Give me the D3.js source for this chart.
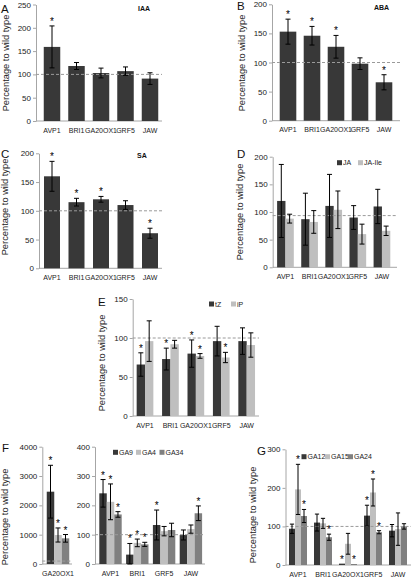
<!DOCTYPE html>
<html><head><meta charset="utf-8">
<script src="https://cdn.jsdelivr.net/npm/d3@7"></script>
<style>body{margin:0;background:#fff} svg{display:block} text{font-family:"Liberation Sans",Arial,sans-serif}</style>
</head><body><svg id="c" width="414" height="577"></svg>
<script>
// ---------- DATA ----------
const catsMain = ["AVP1", "BRI1", "GA20OX1", "GRF5", "JAW"];
// A: IAA
const iaaVal = [159, 118, 103, 107, 91];
const iaaErr = [45, 7.5, 10.5, 9, 12.5];
const iaaSig = [1, 0, 0, 0, 0];
// B: ABA
const abaVal = [153, 146, 127, 98, 66];
const abaErr = [21.5, 16, 19.5, 10, 13];
const abaSig = [1, 1, 1, 0, 1];
// C: SA
const saVal = [160, 115, 120, 110, 61];
const saErr = [26, 6.7, 5, 7.5, 8.7];
const saSig = [1, 1, 1, 0, 1];
// D: JA / JA-Ile
const jaVal = [120, 87, 111, 90, 110];
const jaErr = [66, 47, 57, 21.5, 31];
const jaIleVal = [88, 82, 104, 60, 66];
const jaIleErr = [8, 20.5, 34, 18, 8.5];
const noSig = [0, 0, 0, 0, 0];
// E: tZ / iP
const tzVal = [66, 73, 80, 96, 96];
const tzErr = [15, 14, 17.5, 19, 17];
const tzSig = [1, 1, 1, 0, 0];
const ipVal = [96, 92, 77, 75, 91];
const ipErr = [26, 5, 3, 6.6, 15.6];
const ipSig = [0, 0, 1, 1, 0];
// F left: GA20OX1
const catsFLeft = ["GA20OX1"];
const ga9Left = [2466], ga9LeftErr = [900], ga9LeftSig = [1];
const ga4Left = [989], ga4LeftErr = [240], ga4LeftSig = [1];
const ga34Left = [875], ga34LeftErr = [130], ga34LeftSig = [1];
// F right
const catsFRight = ["AVP1", "BRI1", "GRF5", "JAW"];
const ga9Val = [241, 32, 133, 99];
const ga9Err = [47, 38, 51, 17];
const ga9Sig = [1, 1, 1, 0];
const ga4Val = [212, 72, 112, 119];
const ga4Err = [61, 13, 16, 14];
const ga4Sig = [1, 1, 0, 0];
const ga34Val = [169, 67, 116, 173];
const ga34Err = [9.5, 7, 23, 25];
const ga34Sig = [1, 1, 0, 1];
// G: GA12 / GA15 / GA24
const ga12Val = [94, 110, 3.5, 128, 89];
const ga12Err = [12, 22, 0, 27, 16];
const ga12Sig = [0, 0, 1, 1, 0];
const ga15Val = [196, 108, 55, 188, 93];
const ga15Err = [65, 13, 27, 35, 42];
const ga15Sig = [1, 0, 0, 1, 0];
const ga24Val = [127, 72, 2.6, 85, 100];
const ga24Err = [17, 8, 0, 4, 7];
const ga24Sig = [1, 1, 1, 1, 0];
// tick values
const ticksA = [0, 50, 100, 150, 200, 250];
const ticks200 = [0, 50, 100, 150, 200];
const ticksE = [0, 50, 100, 150];
const ticksFLeft = [0, 1000, 2000, 3000, 4000];
const ticksFRight = [0, 100, 200, 300, 400];
const ticksG = [0, 100, 200, 300];

// ---------- STYLE ----------
const DARK = "#383838", LIGHT = "#bfbfbf", MID = "#808080", AXIS = "#a6a6a6";
const FONT = '"Liberation Sans",Arial,sans-serif';
const svg = d3.select("#c");

function panel(p) {
  const g = svg.append("g");
  const y = d3.scaleLinear().domain([0, p.ymax]).range([p.y0, p.y1]);
  const x = d3.scalePoint().domain(p.cats).range([p.x0, p.x1]).padding(0.5);
  const sub = d3.scaleBand().domain(d3.range(p.series.length)).range([-p.gw / 2, p.gw / 2]);
  const bw = sub.bandwidth();
  const capW = Math.min(5, bw * 0.7);

  // y axis
  const ax = g.append("g").attr("transform", `translate(${p.ax},0)`)
    .call(d3.axisLeft(y).tickValues(p.ticks).tickFormat(d3.format("d")).tickSize(3).tickSizeOuter(0).tickPadding(2));
  ax.select(".domain").attr("stroke", AXIS);
  ax.selectAll(".tick line").attr("stroke", AXIS);
  ax.selectAll(".tick text").attr("fill", "#222").style("font-size", "8px").style("font-family", FONT);

  // baseline
  g.append("line").attr("x1", p.ax).attr("x2", p.xEnd).attr("y1", y(0)).attr("y2", y(0))
    .attr("stroke", AXIS);

  // bars
  p.series.forEach((s, si) => {
    g.selectAll(null).data(p.cats).enter().append("rect")
      .attr("x", c => x(c) + sub(si))
      .attr("width", bw)
      .attr("y", (c, i) => y(s.v[i]))
      .attr("height", (c, i) => y(0) - y(s.v[i]))
      .attr("fill", s.c);
  });

  // dashed reference line
  g.append("line").attr("x1", p.ax).attr("x2", p.xEnd).attr("y1", y(p.ref)).attr("y2", y(p.ref))
    .attr("stroke", "#9a9a9a").attr("stroke-dasharray", "3,2").attr("stroke-width", 1);

  // error bars + asterisks
  p.series.forEach((s, si) => {
    p.cats.forEach((c, i) => {
      const cx = x(c) + sub(si) + bw / 2;
      const e = s.e[i];
      const top = y(s.v[i] + e);
      if (e > 0) {
        const bot = y(Math.max(0, s.v[i] - e));
        g.append("line").attr("x1", cx).attr("x2", cx).attr("y1", top).attr("y2", bot).attr("stroke", "#000");
        g.append("line").attr("x1", cx - capW / 2).attr("x2", cx + capW / 2).attr("y1", top).attr("y2", top).attr("stroke", "#000");
        g.append("line").attr("x1", cx - capW / 2).attr("x2", cx + capW / 2).attr("y1", bot).attr("y2", bot).attr("stroke", "#000");
      }
      if (s.s[i]) {
        g.append("text").attr("x", cx).attr("y", top - 1).attr("text-anchor", "middle")
          .style("font-size", "10px").attr("fill", "#000").text("*");
      }
    });
  });

  // category labels
  g.selectAll(null).data(p.cats).enter().append("text")
    .attr("x", c => x(c)).attr("y", p.y0 + 11.5).attr("text-anchor", "middle")
    .style("font-size", "7px").attr("fill", "#222").text(c => c);

  // y label
  if (p.ylab) {
    g.append("text").attr("transform", `translate(${p.ylab[0]},${p.ylab[1]}) rotate(-90)`)
      .attr("text-anchor", "middle").attr("dominant-baseline", "central")
      .style("font-size", "9.3px").attr("fill", "#222").text("Percentage to wild type");
  }
  if (p.letter) {
    g.append("text").attr("x", p.letter[1]).attr("y", p.letter[2]).style("font-size", "11.5px")
      .attr("fill", "#111").text(p.letter[0]);
  }
  if (p.title) {
    g.append("text").attr("x", p.title[1]).attr("y", p.title[2]).style("font-size", "7px")
      .style("font-weight", "bold").attr("fill", "#111").text(p.title[0]);
  }
  if (p.legend) {
    p.legend.items.forEach((it, k) => {
      const lx = p.legend.xs[k];
      g.append("rect").attr("x", lx).attr("y", p.legend.y - 2.5).attr("width", 5).attr("height", 5).attr("fill", p.series[k].c);
      g.append("text").attr("x", lx + 6).attr("y", p.legend.y).attr("dominant-baseline", "central")
        .style("font-size", "7px").attr("fill", "#222").text(it);
    });
  }
}

panel({ cats: catsMain, ymax: 250, y0: 121, y1: 4.5, ticks: ticksA, ax: 36, x0: 39.75, x1: 162.25, gw: 16.5, xEnd: 162, ref: 100,
  series: [{ v: iaaVal, e: iaaErr, s: iaaSig, c: DARK }], letter: ["A", 1, 12.5], title: ["IAA", 138, 10.5], ylab: [6, 63] });
panel({ cats: catsMain, ymax: 200, y0: 120.7, y1: 4.3, ticks: ticks200, ax: 272, x0: 276, x1: 396, gw: 16.6, xEnd: 400, ref: 100,
  series: [{ v: abaVal, e: abaErr, s: abaSig, c: DARK }], letter: ["B", 237, 9.8], title: ["ABA", 374, 10], ylab: [242, 63] });
panel({ cats: catsMain, ymax: 200, y0: 268.3, y1: 153.3, ticks: ticks200, ax: 39, x0: 39.75, x1: 162.25, gw: 16, xEnd: 162, ref: 100,
  series: [{ v: saVal, e: saErr, s: saSig, c: DARK }], letter: ["C", 1, 158], title: ["SA", 137, 158], ylab: [5, 207] });
panel({ cats: catsMain, ymax: 200, y0: 267.3, y1: 156.7, ticks: ticks200, ax: 272.7, x0: 273.4, x1: 394, gw: 16.7, xEnd: 397, ref: 93.5,
  series: [{ v: jaVal, e: jaErr, s: noSig, c: DARK }, { v: jaIleVal, e: jaIleErr, s: noSig, c: LIGHT }],
  letter: ["D", 237, 158], ylab: [240, 212], legend: { items: ["JA", "JA-Ile"], xs: [337, 358], y: 162.7 } });
panel({ cats: catsMain, ymax: 150, y0: 416, y1: 299, ticks: ticksE, ax: 132.7, x0: 132.3, x1: 259.4, gw: 16.7, xEnd: 259, ref: 100,
  series: [{ v: tzVal, e: tzErr, s: tzSig, c: DARK }, { v: ipVal, e: ipErr, s: ipSig, c: LIGHT }],
  letter: ["E", 98, 306], ylab: [102, 363], legend: { items: ["tZ", "iP"], xs: [209, 231], y: 304 } });
panel({ cats: catsFLeft, ymax: 4000, y0: 564, y1: 446.7, ticks: ticksFLeft, ax: 42.3, x0: 43.5, x1: 72.5, gw: 22.5, xEnd: 72, ref: 100,
  series: [{ v: ga9Left, e: ga9LeftErr, s: ga9LeftSig, c: DARK }, { v: ga4Left, e: ga4LeftErr, s: ga4LeftSig, c: LIGHT }, { v: ga34Left, e: ga34LeftErr, s: ga34LeftSig, c: MID }],
  letter: ["F", 2, 451.7], ylab: [5, 517] });
panel({ cats: catsFRight, ymax: 400, y0: 564, y1: 446.7, ticks: ticksFRight, ax: 95, x0: 97.1, x1: 204.3, gw: 22.4, xEnd: 205, ref: 100,
  series: [{ v: ga9Val, e: ga9Err, s: ga9Sig, c: DARK }, { v: ga4Val, e: ga4Err, s: ga4Sig, c: LIGHT }, { v: ga34Val, e: ga34Err, s: ga34Sig, c: MID }],
  legend: { items: ["GA9", "GA4", "GA34"], xs: [113, 136, 159.5], y: 452.3 } });
panel({ cats: catsMain, ymax: 300, y0: 565, y1: 449.3, ticks: ticksG, ax: 285.5, x0: 285.5, x1: 410.5, gw: 18, xEnd: 411, ref: 100,
  series: [{ v: ga12Val, e: ga12Err, s: ga12Sig, c: DARK }, { v: ga15Val, e: ga15Err, s: ga15Sig, c: LIGHT }, { v: ga24Val, e: ga24Err, s: ga24Sig, c: MID }],
  letter: ["G", 257, 455], ylab: [253, 515], legend: { items: ["GA12", "GA15", "GA24"], xs: [301.5, 325, 348], y: 456.7 } });
</script></body></html>
